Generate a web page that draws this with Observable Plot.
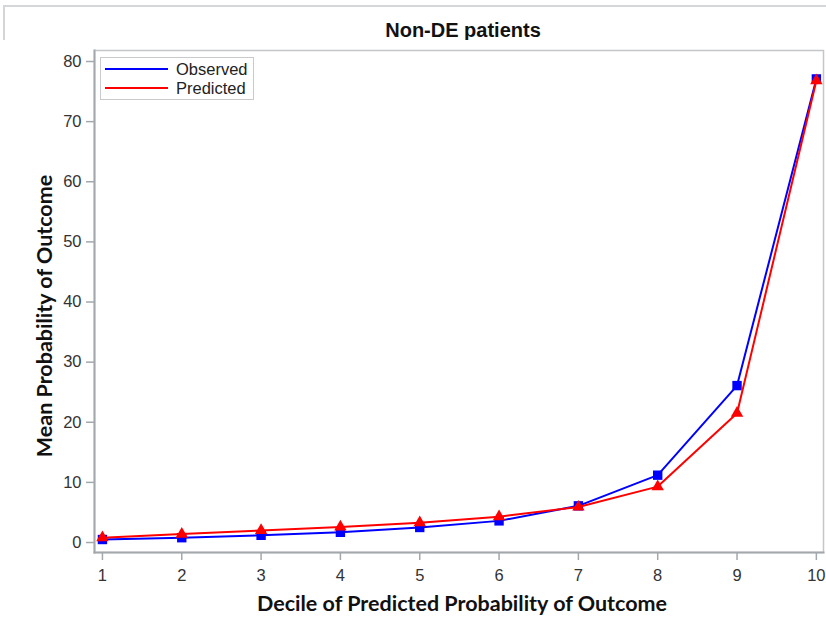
<!DOCTYPE html>
<html>
<head>
<meta charset="utf-8">
<script src="https://cdn.jsdelivr.net/npm/d3@7"></script>
<script src="https://cdn.jsdelivr.net/npm/@observablehq/plot@0.6"></script>
<style>
  html, body { margin: 0; padding: 0; background: #fff; }
  #wrap { position: relative; width: 826px; height: 630px; overflow: hidden; }
  #border { position: absolute; left: 3px; top: 5px; width: 830px; height: 640px;
            border-left: 2px solid #d4d6d8; border-top: 2px solid #d4d6d8; }
  #title { position: absolute; left: 94px; width: 738px; top: 19px; text-align: center;
           font: bold 20px "Liberation Sans", Arial, sans-serif; color: #111; }
  #chart { position: absolute; left: 0; top: 40px; }
  #chart svg text { font-size: 16.5px !important; }
  #xlabel { position: absolute; left: 94px; width: 736px; top: 590px; text-align: center;
            font: bold 21.5px Lato, "Open Sans", sans-serif; color: #111; }
  #ylabel { position: absolute; left: 44px; top: 316px; transform: translate(-50%, -50%) rotate(-90deg);
            white-space: nowrap; font: bold 21.5px Lato, "Open Sans", sans-serif; color: #111; }
  #legend { position: absolute; left: 100px; top: 57px; width: 152px; height: 41px;
            border: 1px solid #c8cacc; background: #fff;
            font: 16.5px "Liberation Sans", Arial, sans-serif; color: #222; }
  .key { position: absolute; left: 4px; height: 18px; display: flex; align-items: center; }
  .key span.sw { display: inline-block; width: 63px; height: 2px; margin-right: 8px; }
</style>
</head>
<body>
<div id="wrap">
  <div id="border"></div>
  <div id="title">Non-DE patients</div>
  <div id="chart"></div>
  <div id="ylabel">Mean Probability of Outcome</div>
  <div id="xlabel">Decile of Predicted Probability of Outcome</div>
  <div id="legend"></div>
</div>
<script>
// Deciles of predicted probability and the mean outcome per decile (%)
const deciles = [1, 2, 3, 4, 5, 6, 7, 8, 9, 10];
const observed = [0.5, 0.8, 1.2, 1.7, 2.5, 3.6, 6.1, 11.2, 26.1, 77.1];
const predicted = [0.8, 1.4, 2.0, 2.6, 3.3, 4.3, 5.9, 9.3, 21.5, 76.8];
const yTicks = [0, 10, 20, 30, 40, 50, 60, 70, 80];
const seriesNames = ["Observed", "Predicted"];
const seriesColors = ["#0000ff", "#ff0000"];
const seriesSymbols = ["square", "triangle"];

const obsData = deciles.map((d, i) => ({decile: d, value: observed[i]}));
const predData = deciles.map((d, i) => ({decile: d, value: predicted[i]}));

const axisGray = "#a3a8ad";

const chart = Plot.plot({
  width: 826,
  height: 590,
  marginLeft: 94,
  marginRight: 3,
  marginTop: 10,
  marginBottom: 78,
  style: {fontFamily: "'Liberation Sans', Arial, sans-serif", fontSize: "16.5px", color: "#333", background: "#fff"},
  x: {domain: [0.9, 10.09]},
  y: {domain: [-1.66, 81.83]},
  marks: [
    Plot.frame({stroke: "#c4c7ca", strokeWidth: 1.5}),
    Plot.frame({anchor: "left", stroke: axisGray, strokeWidth: 2}),
    Plot.frame({anchor: "bottom", stroke: axisGray, strokeWidth: 2}),
    Plot.axisY({ticks: yTicks, tickSize: 8, tickPadding: 5, stroke: axisGray, strokeWidth: 1.5,
                fill: "#333", fontSize: 16.5, label: null}),
    Plot.axisX({ticks: deciles, tickSize: 8, tickPadding: 9, stroke: axisGray, strokeWidth: 1.5,
                fill: "#333", fontSize: 16.5, label: null, tickFormat: d3.format("d")}),
    Plot.line(obsData, {x: "decile", y: "value", stroke: seriesColors[0], strokeWidth: 2}),
    Plot.dot(obsData, {x: "decile", y: "value", symbol: seriesSymbols[0], r: 5.3, fill: seriesColors[0], stroke: "none"}),
    Plot.line(predData, {x: "decile", y: "value", stroke: seriesColors[1], strokeWidth: 2}),
    Plot.dot(predData, {x: "decile", y: "value", symbol: seriesSymbols[1], r: 4.6, fill: seriesColors[1], stroke: "none"})
  ]
});
document.getElementById("chart").appendChild(chart);

// Legend: line swatches for both series
const legend = document.getElementById("legend");
seriesNames.forEach((name, i) => {
  const row = document.createElement("div");
  row.className = "key";
  row.style.top = (2 + i * 19) + "px";
  const sw = document.createElement("span");
  sw.className = "sw";
  sw.style.background = seriesColors[i];
  row.appendChild(sw);
  row.appendChild(document.createTextNode(name));
  legend.appendChild(row);
});
</script>
</body>
</html>
